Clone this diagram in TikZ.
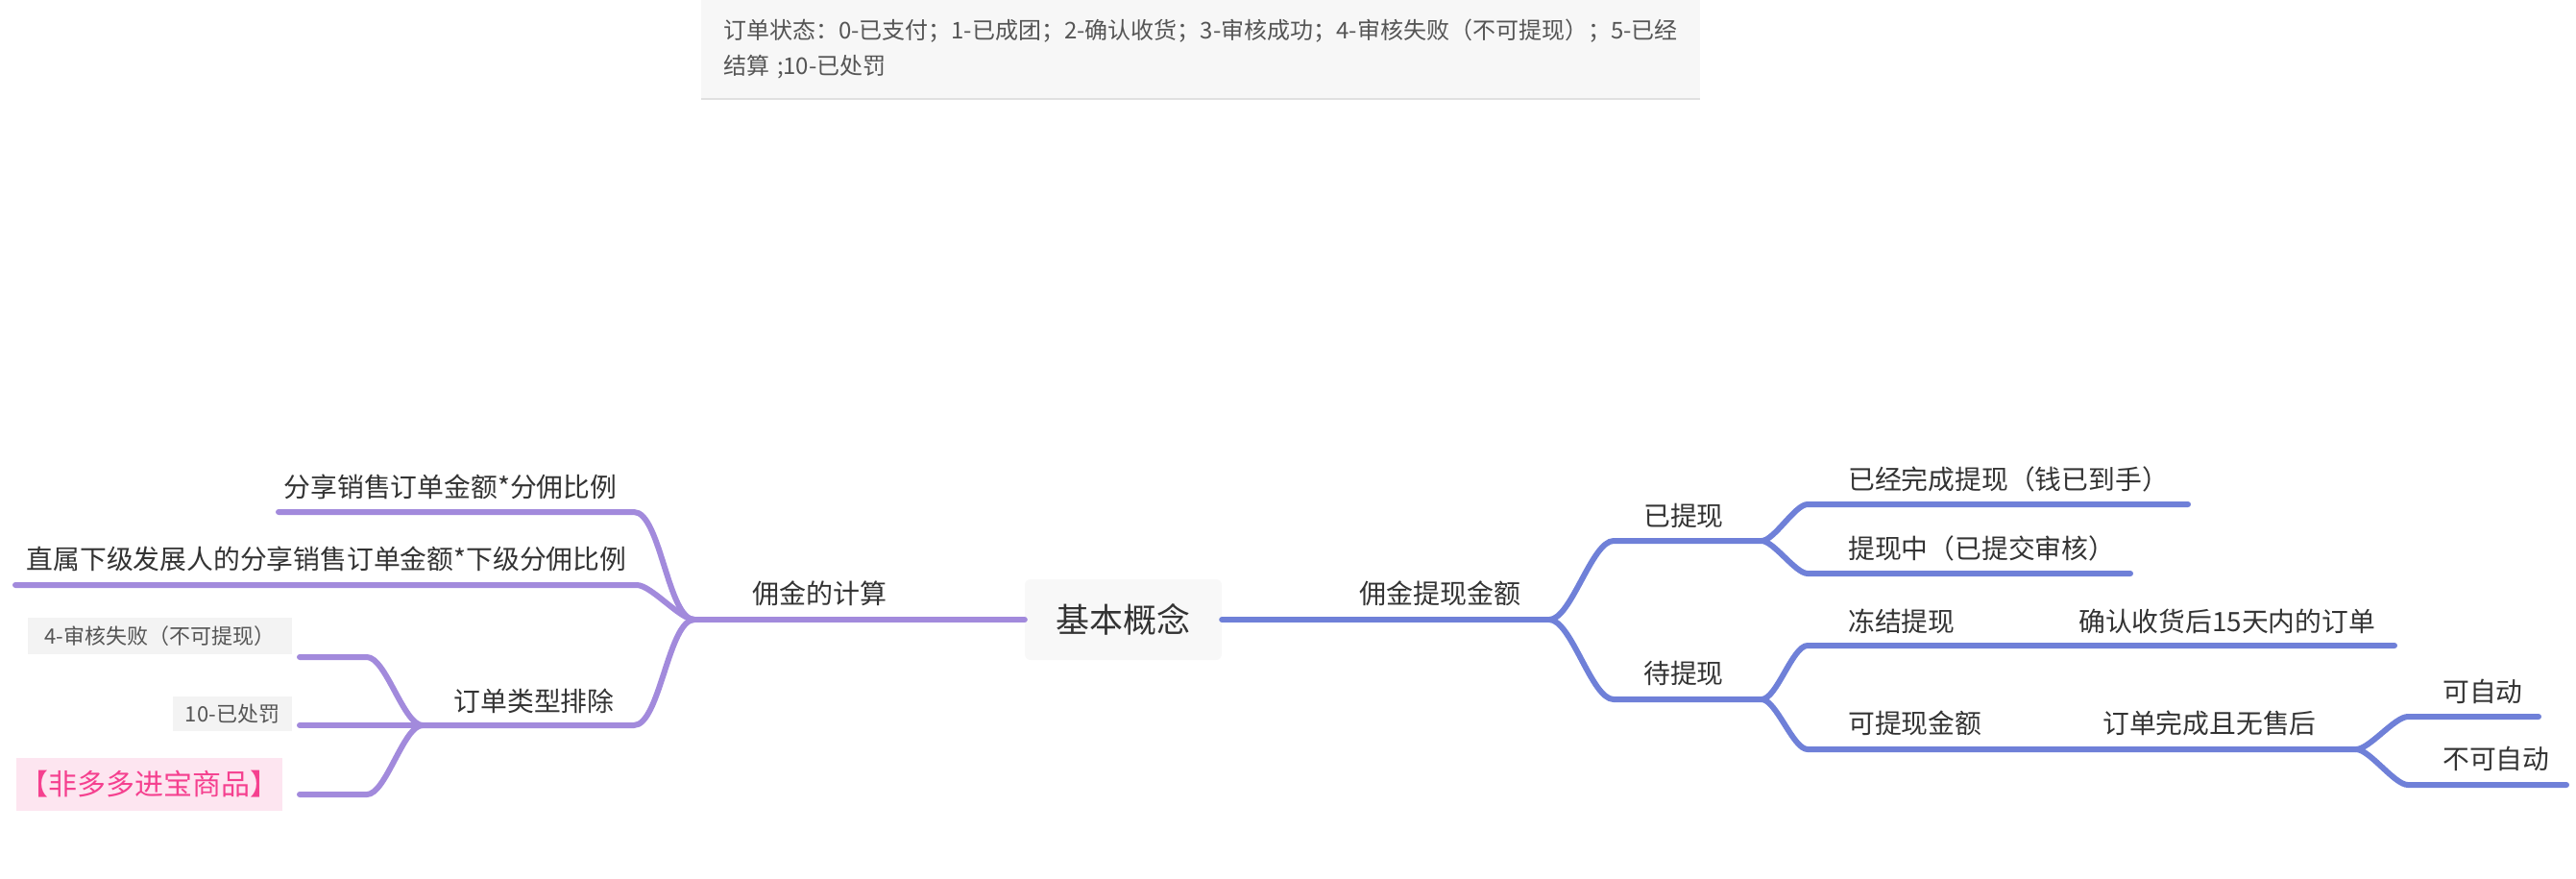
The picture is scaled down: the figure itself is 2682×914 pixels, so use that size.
\documentclass[tikz,border=0pt]{standalone}
\usepackage{fontspec}
\setmainfont{Noto Sans CJK SC}
\usepackage{tikz}

\definecolor{purpleline}{HTML}{A28ADC}
\definecolor{blueline}{HTML}{6F80D8}
\definecolor{inkgray}{HTML}{333333}
\definecolor{notegray}{HTML}{F7F7F7}
\definecolor{notetext}{HTML}{555555}
\definecolor{rootfill}{HTML}{F8F8F8}
\definecolor{clipfill}{HTML}{F3F3F3}
\definecolor{pinkfill}{HTML}{FDE5F0}
\definecolor{pinktext}{HTML}{F5408F}

\begin{document}
\begin{tikzpicture}[x=1pt, y=-1pt,
  pline/.style={draw=purpleline, line width=6pt, line cap=round},
  bline/.style={draw=blueline, line width=6pt, line cap=round},
  toleft/.style={out=180, in=0, looseness=0.55},
  toright/.style={out=0, in=180, looseness=0.55},
  lbl/.style={inner sep=0pt, text=inkgray, font=\fontsize{27.8}{32}\selectfont},
  toplbl/.style={lbl, font=\fontsize{28}{32}\selectfont},
  rootbox/.style={rectangle, fill=rootfill, rounded corners=6pt,
                  minimum width=205pt, minimum height=84pt, text=inkgray,
                  font=\fontsize{35}{40}\selectfont},
  clipbox/.style={rectangle, fill=clipfill, inner sep=0pt, text=notetext,
               font=\fontsize{22}{26}\selectfont},
  pinkbox/.style={rectangle, fill=pinkfill, inner sep=0pt, text=pinktext,
                   font=\fontsize{30}{34}\selectfont}
]
\useasboundingbox (0,0) rectangle (2682,914);

\node[rectangle, fill=notegray, minimum height=103pt,
      text width=994pt, align=left, inner xsep=23pt, inner ysep=0pt,
      text=notetext, font=\fontsize{24}{37}\selectfont] (status) at (1250,51.5)
  {订单状态：0-已支付；1-已成团；2-确认收货；3-审核成功；4-审核失败（不可提现）；5-已经\\结算 ;10-已处罚};
\draw[black!12, line width=1.5pt] (status.south west) -- (status.south east);

\node[rootbox] (root) at (1169.5,645) {基本概念};

% left side
\coordinate (j1)  at (723,645);
\coordinate (a1r) at (660,533);
\coordinate (a1l) at (290,533);
\coordinate (a2r) at (663,609);
\coordinate (a2l) at (16,609);
\coordinate (a3r) at (660,755);
\coordinate (j2)  at (440,755);
\coordinate (b1r) at (382,684);
\coordinate (b1l) at (312,684);
\coordinate (b2l) at (312,755);
\coordinate (b3r) at (382,827);
\coordinate (b3l) at (312,827);

\node[toplbl] (calc)  at (853,618) {佣金的计算};
\node[lbl]    (share) at (469,507) {分享销售订单金额*分佣比例};
\node[lbl]    (sub)   at (340,582) {直属下级发展人的分享销售订单金额*下级分佣比例};
\node[lbl]    (excl)  at (556,730) {订单类型排除};
\node[clipbox, minimum width=275pt, minimum height=38pt] (fail) at (166.5,662)
  {4-审核失败（不可提现）};
\node[clipbox, minimum width=124pt, minimum height=36pt] (fine) at (242,743)
  {10-已处罚};
\node[pinkbox, minimum width=277pt, minimum height=55pt] (nonddj) at (155.5,816)
  {【非多多进宝商品】};

\draw[pline] (root.west) -- (j1);
\draw[pline] (j1) to[toleft] (a1r) -- (a1l);
\draw[pline] (j1) to[toleft] (a2r) -- (a2l);
\draw[pline] (j1) to[toleft] (a3r) -- (j2);
\draw[pline] (j2) to[toleft] (b1r) -- (b1l);
\draw[pline] (j2) -- (b2l);
\draw[pline] (j2) to[toleft] (b3r) -- (b3l);

% right side
\coordinate (j3)  at (1613,645);
\coordinate (c1l) at (1680,563);
\coordinate (j4)  at (1834,563);
\coordinate (c2l) at (1680,728);
\coordinate (j5)  at (1834,728);
\coordinate (d1l) at (1882,525);
\coordinate (d1r) at (2278,525);
\coordinate (d2l) at (1882,597);
\coordinate (d2r) at (2218,597);
\coordinate (e1l) at (1882,672);
\coordinate (f1r) at (2493,672);
\coordinate (e2l) at (1882,780);
\coordinate (j6)  at (2453,780);
\coordinate (g1l) at (2507,746);
\coordinate (g1r) at (2643,746);
\coordinate (g2l) at (2507,817);
\coordinate (g2r) at (2672,817);

\node[toplbl] (payout) at (1499,618) {佣金提现金额};
\node[lbl] (done)    at (1753,537) {已提现};
\node[lbl] (pending) at (1753,701) {待提现};
\node[lbl, anchor=west] (paid)    at (1924,499) {已经完成提现（钱已到手）};
\node[lbl, anchor=west] (review)  at (1924,571) {提现中（已提交审核）};
\node[lbl, anchor=west] (frozen)  at (1924,647) {冻结提现};
\node[lbl, anchor=west] (within)  at (2164,647) {确认收货后15天内的订单};
\node[lbl, anchor=west] (avail)   at (1924,753) {可提现金额};
\node[lbl, anchor=west] (settled) at (2189,753) {订单完成且无售后};
\node[lbl, anchor=west] (auto)    at (2543,720) {可自动};
\node[lbl, anchor=west] (manual)  at (2543,790) {不可自动};

\draw[bline] (root.east) -- (j3);
\draw[bline] (j3) to[toright] (c1l) -- (j4);
\draw[bline] (j3) to[toright] (c2l) -- (j5);
\draw[bline] (j4) to[toright] (d1l) -- (d1r);
\draw[bline] (j4) to[toright] (d2l) -- (d2r);
\draw[bline] (j5) to[toright] (e1l) -- (f1r);
\draw[bline] (j5) to[toright] (e2l) -- (j6);
\draw[bline] (j6) to[toright] (g1l) -- (g1r);
\draw[bline] (j6) to[toright] (g2l) -- (g2r);
\end{tikzpicture}
\end{document}
